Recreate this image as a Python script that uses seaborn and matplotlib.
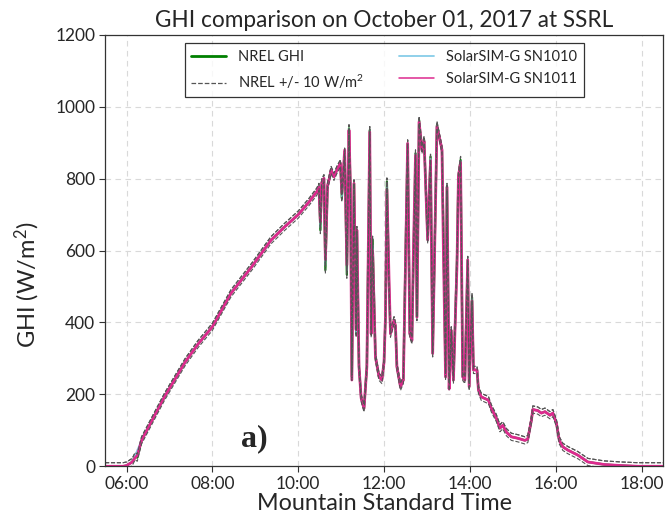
import matplotlib
matplotlib.use("Agg")
import matplotlib.pyplot as plt
import matplotlib.dates as mdates
import seaborn as sns
import pandas as pd
import numpy as np

# Readings (Mountain Standard Time, W/m2)
times = [
    "05:30", "05:55", "06:00", "06:08", "06:12", "06:15", "06:21", "06:35", "06:53", "07:22",
    "07:40", "08:00", "08:26", "08:55", "09:22", "09:41", "10:00", "10:15", "10:26", "10:29",
    "10:31", "10:33", "10:36", "10:38", "10:41", "10:43", "10:46", "10:50", "10:54", "10:59",
    "11:01", "11:05", "11:08", "11:11", "11:13", "11:15", "11:18", "11:21", "11:22", "11:25",
    "11:28", "11:32", "11:36", "11:40", "11:42", "11:44", "11:48", "11:53", "11:57", "12:00",
    "12:02", "12:04", "12:07", "12:09", "12:14", "12:16", "12:18", "12:23", "12:27", "12:30",
    "12:33", "12:36", "12:39", "12:41", "12:44", "12:46", "12:49", "12:53", "12:56", "13:01",
    "13:05", "13:08", "13:11", "13:14", "13:19", "13:21", "13:23", "13:26", "13:28", "13:31",
    "13:34", "13:37", "13:42", "13:44", "13:47", "13:50", "13:53", "13:57", "13:59", "14:03",
    "14:05", "14:10", "14:12", "14:16", "14:26", "14:30", "14:37", "14:42", "14:46", "14:51",
    "14:58", "15:07", "15:17", "15:21", "15:26", "15:28", "15:35", "15:40", "15:45", "15:52",
    "15:56", "16:01", "16:05", "16:10", "16:17", "16:31", "16:45", "17:08", "17:32", "17:55",
    "18:30",
]

nrel_ghi = [
    0, 0, 2, 12, 28, 24, 72, 125, 193, 290,
    340, 388, 481, 555, 629, 666, 700, 735, 764, 777,
    657, 790, 801, 546, 780, 796, 824, 805, 824, 843,
    746, 875, 533, 940, 777, 249, 787, 369, 657, 277,
    190, 161, 277, 935, 369, 630, 304, 249, 240, 290,
    415, 792, 500, 369, 406, 390, 277, 221, 240, 583,
    898, 369, 350, 563, 870, 415, 963, 880, 908, 630,
    861, 314, 630, 949, 900, 880, 650, 249, 777, 221,
    378, 240, 574, 806, 852, 249, 240, 574, 221, 470,
    268, 268, 212, 193, 184, 161, 134, 106, 114, 95,
    82, 78, 72, 76, 128, 158, 155, 148, 152, 142,
    148, 120, 72, 54, 45, 31, 12, 5, 2, 0,
    0,
]

sn1010_ghi = [
    0, 0, 2, 12, 30, 45, 72, 125, 193, 290,
    340, 388, 481, 555, 629, 666, 700, 735, 764, 777,
    665, 790, 801, 560, 780, 796, 824, 805, 824, 843,
    750, 875, 545, 938, 777, 245, 787, 372, 657, 277,
    190, 161, 277, 933, 369, 615, 304, 249, 240, 290,
    415, 785, 510, 369, 406, 390, 277, 221, 240, 575,
    898, 369, 350, 575, 868, 415, 961, 880, 906, 630,
    856, 314, 630, 947, 900, 880, 625, 249, 777, 218,
    378, 240, 568, 806, 850, 249, 240, 574, 221, 465,
    268, 268, 212, 193, 184, 161, 134, 106, 114, 95,
    82, 78, 72, 76, 128, 158, 155, 148, 152, 142,
    148, 120, 72, 54, 45, 31, 12, 5, 2, 0,
    0,
]

sn1011_ghi = [
    0, 0, 2, 12, 24, 30, 72, 125, 193, 290,
    340, 388, 481, 555, 629, 666, 700, 735, 764, 777,
    680, 790, 801, 575, 780, 796, 824, 805, 824, 843,
    760, 880, 560, 935, 777, 240, 787, 380, 657, 277,
    190, 161, 277, 930, 369, 600, 304, 249, 240, 290,
    415, 770, 520, 369, 406, 390, 277, 221, 240, 560,
    898, 369, 350, 590, 865, 415, 958, 880, 904, 630,
    850, 314, 630, 945, 900, 880, 600, 249, 777, 215,
    378, 240, 560, 806, 845, 249, 240, 574, 221, 460,
    268, 268, 212, 193, 184, 161, 134, 106, 114, 95,
    82, 78, 72, 76, 128, 158, 155, 148, 152, 142,
    148, 120, 72, 54, 45, 31, 12, 5, 2, 0,
    0,
]

band = 10  # W/m2 tolerance around NREL

day = "2017-10-01 "
df = pd.DataFrame({
    "time": pd.to_datetime([day + t for t in times]),
    "nrel": nrel_ghi,
    "sn1010": sn1010_ghi,
    "sn1011": sn1011_ghi,
})
df["upper"] = df["nrel"] + band
df["lower"] = df["nrel"] - band

sns.set_style("whitegrid", {
    "grid.color": "#d9d9d9",
    "grid.linestyle": (0, (5, 4)),
    "axes.edgecolor": "#333333",
    "xtick.bottom": True,
    "ytick.left": True,
})
plt.rcParams["font.family"] = ["Lato", "DejaVu Sans"]
plt.rcParams["mathtext.default"] = "regular"

fig = plt.figure(figsize=(6.65, 5.21), dpi=100)
ax = fig.add_axes([0.158, 0.105, 0.839, 0.828])

sns.lineplot(data=df, x="time", y="nrel", color="green", lw=1.6, label="NREL GHI", ax=ax)
sns.lineplot(data=df, x="time", y="upper", color="#555555", lw=0.8, linestyle="--",
             label="NREL +/- 10 W/m$^2$", ax=ax)
sns.lineplot(data=df, x="time", y="sn1010", color="#87cde8", lw=1.2, label="SolarSIM-G SN1010", ax=ax)
sns.lineplot(data=df, x="time", y="sn1011", color="#dd2a8e", lw=2.0, label="SolarSIM-G SN1011", ax=ax)
sns.lineplot(data=df, x="time", y="lower", color="#555555", lw=0.8, linestyle="--", ax=ax)
ax.plot(df["time"], df["upper"], color="#555555", lw=0.8, linestyle="--")

ax.set_xlim(pd.Timestamp(day + "05:30"), pd.Timestamp(day + "18:30"))
ax.set_ylim(0, 1200)
ax.set_yticks(np.arange(0, 1201, 200))
ax.xaxis.set_major_locator(mdates.HourLocator(byhour=range(6, 19, 2)))
ax.xaxis.set_major_formatter(mdates.DateFormatter("%H:%M"))
ax.tick_params(axis="both", labelsize=12.5, length=4, width=0.8, color="#333333", pad=3)
for s in ax.spines.values():
    s.set_linewidth(0.9)

ax.set_title("GHI comparison on October 01, 2017 at SSRL", fontsize=16.3, pad=6)
ax.set_xlabel("Mountain Standard Time", fontsize=16.8, labelpad=1)
ax.set_ylabel("GHI (W/m$^2$)", fontsize=17)
ax.yaxis.set_label_coords(-0.113, 0.42)

ax.text(pd.Timestamp(day + "08:40"), 78, "a)", fontsize=23, fontweight="bold",
        family="Liberation Serif", va="center", ha="left")

handles, labels = ax.get_legend_handles_labels()
leg = ax.legend(handles, labels, ncol=2, loc="upper left", bbox_to_anchor=(0.143, 0.981),
                fontsize=10.5, frameon=True, fancybox=False, edgecolor="black",
                handlelength=2.4, handletextpad=0.8, columnspacing=2.4,
                borderpad=0.45, labelspacing=0.6, borderaxespad=0)
leg.get_frame().set_linewidth(0.9)
# thinner legend keys, like the reference
for line, w in zip(leg.get_lines(), [2.0, 0.9, 1.3, 1.1]):
    line.set_linewidth(w)

fig.savefig("out.png", dpi=100)
